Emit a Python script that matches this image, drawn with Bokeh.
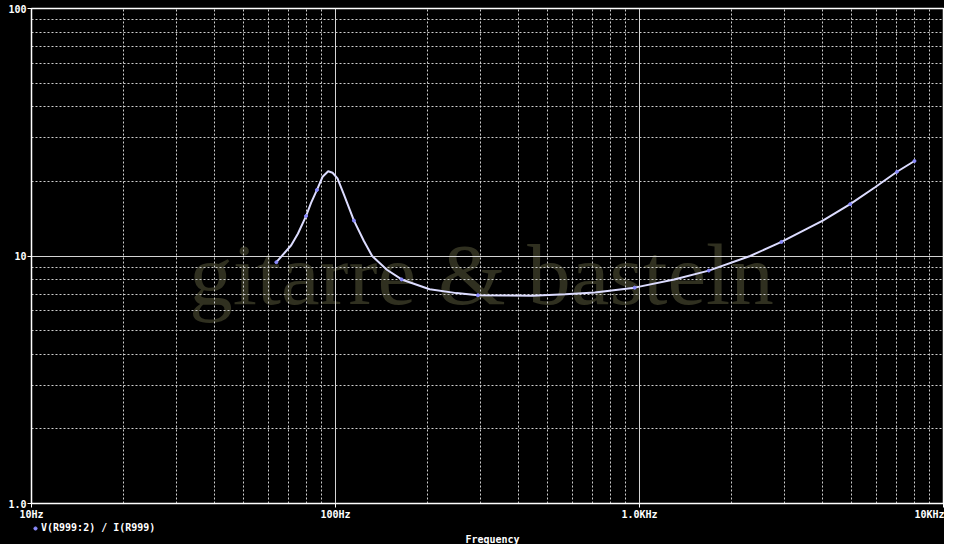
from bokeh.plotting import figure
from bokeh.layouts import column
from bokeh.models import FixedTicker, Legend, LegendItem, Label
from bokeh.embed import file_html
from bokeh.resources import INLINE

# ---- data ----
freq = [63.9, 71.5, 75.2, 80.0, 83.1, 86.9, 90.7, 94.6, 97.8, 101.5, 106.6, 115, 124, 132,
        147.6, 165, 204, 250, 294, 360, 444, 570, 713, 964, 1300, 1690, 2312, 2930,
        4008, 4932, 5972, 7030, 8026]
impedance = [9.44, 11.05, 12.3, 14.5, 16.4, 18.5, 20.9, 22.0, 21.7, 20.6, 17.7, 13.9, 11.5, 10.0,
             8.8, 8.04, 7.34, 7.08, 6.94, 6.92, 6.91, 7.0, 7.12, 7.45, 8.04, 8.73, 10.0, 11.4,
             13.9, 16.2, 19.0, 21.9, 24.2]
marker_idx = [0, 3, 5, 11, 15, 18, 23, 25, 27, 29, 31, 32]

x_ticks = [10, 100, 1000, 10000]
x_tick_labels = ["10Hz", "100Hz", "1.0KHz", "10KHz"]
x_minor = [m * d for d in (10, 100, 1000) for m in range(2, 10)]
y_ticks = [1, 10, 100]
y_tick_labels = ["1.0", "10", "100"]
y_minor = [m * d for d in (1, 10) for m in range(2, 10)]

series_name = "V(R999:2) / I(R999)"
x_title = "Frequency"
watermark = "gitarre & basteln"

MONO = "DejaVu Sans Mono"
MARK = "#8c8cff"

p = figure(width=944, height=522, x_axis_type="log", y_axis_type="log",
           x_range=(10, 10000), y_range=(1, 100),
           output_backend="svg", toolbar_location=None,
           background_fill_color="black", border_fill_color="black",
           min_border_left=31, min_border_right=1, min_border_top=8, min_border_bottom=17)

p.outline_line_color = "white"
p.outline_line_width = 1.5

# watermark below the grid
wm = Label(x=33, y=8.4, text=watermark, text_font="Liberation Serif", text_font_size="87px",
           text_color="#303020", text_baseline="alphabetic", level="image")
p.add_layout(wm)

for ax, ticks, labels, minor in ((p.xaxis[0], x_ticks, x_tick_labels, x_minor),
                                 (p.yaxis[0], y_ticks, y_tick_labels, y_minor)):
    ax.ticker = FixedTicker(ticks=ticks, minor_ticks=minor)
    ax.major_label_overrides = {t: l for t, l in zip(ticks, labels)}
    ax.axis_line_color = "white"
    ax.major_tick_line_color = "white"
    ax.major_tick_in = 0
    ax.major_tick_out = 4
    ax.minor_tick_line_color = None
    ax.major_label_text_color = "white"
    ax.major_label_text_font = MONO
    ax.major_label_text_font_style = "bold"
    ax.major_label_text_font_size = "10px"
    ax.major_label_standoff = 1

for g in (p.xgrid[0], p.ygrid[0]):
    g.grid_line_color = "#d4d4d4"
    g.grid_line_width = 1
    g.minor_grid_line_color = "#cfcfcf"
    g.minor_grid_line_dash = "2 2"
    g.minor_grid_line_width = 1

p.line(freq, impedance, line_color="#dcdcff", line_width=2)
p.scatter([freq[i] for i in marker_idx], [impedance[i] for i in marker_idx],
          size=3, color=MARK, marker="circle")

# strip below the plot (its frame is aligned with the main plot's frame): legend and x title
p2 = figure(width=944, height=22, x_range=(0, 1), y_range=(0, 1),
            x_axis_location=None, y_axis_location=None,
            output_backend="svg", toolbar_location=None,
            background_fill_color="black", border_fill_color="black",
            min_border_left=0, min_border_right=0, min_border_top=0, min_border_bottom=0)
p2.outline_line_color = None
p2.xgrid.visible = False
p2.ygrid.visible = False
# legend swatch renderer (its point lies outside this strip's range, only the legend glyph shows)
leg_r = p2.scatter([freq[0]], [impedance[0]], size=3, color=MARK, marker="circle")

legend = Legend(items=[LegendItem(label=series_name, renderers=[leg_r])],
                orientation="horizontal", location=(0, 11),
                background_fill_alpha=0, border_line_color=None,
                label_text_color="white", label_text_font=MONO, label_text_font_style="bold",
                label_text_font_size="10px", glyph_width=8, glyph_height=10,
                label_height=10, label_standoff=2, padding=0, margin=0, spacing=0)
p2.add_layout(legend)

xt = Label(x=461, y=5, x_units="screen", y_units="screen", text=x_title,
           text_font=MONO, text_font_style="bold", text_font_size="10px",
           text_color="white", text_align="center", text_baseline="middle")
p2.add_layout(xt)

layout = column(p, p2, spacing=0)
layout.styles = {"background-color": "black"}
open("out.html", "w").write(file_html(layout, INLINE))
